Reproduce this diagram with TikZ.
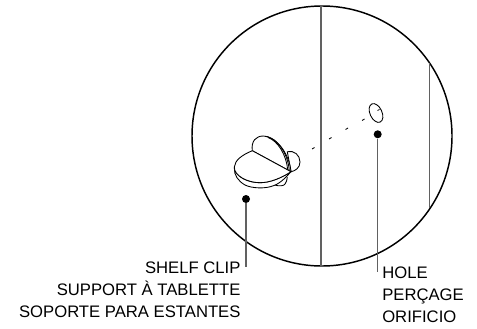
\documentclass[tikz,border=0pt]{standalone}
\usepackage{fontspec}
\setmainfont{Liberation Sans}
\tikzset{
 px/.style={x=0.75pt,y=-0.75pt},
 wall/.style={draw=black!62,line width=0.85pt},
 ink/.style={draw=black,line width=0.65pt,line join=round},
 lbl/.style={font=\fontsize{12.5pt}{16.4pt}\selectfont,inner sep=0pt},
 dotm/.style={circle,fill=black,inner sep=0pt,minimum size=6pt},
}
\begin{document}
\begin{tikzpicture}[px]
\useasboundingbox (0,0) rectangle (477,328);
\node[circle,draw=black,line width=1.1pt,minimum size=195pt,inner sep=0pt] (lens) at (322,136) {};
\coordinate (w1t) at (321,6); \coordinate (w1b) at (321,266);
\coordinate (w2t) at (429.5,63); \coordinate (w2b) at (429.5,208);
\draw[wall] (w1t)--(w1b);
\draw[wall] (w2t)--(w2b);
% hole
\draw[ink] (376,113) ellipse[x radius=6,y radius=10,rotate=25];
\draw[ink] (377.5,110.5)--(379.5,109.5);
% dashes
\foreach \a/\b/\c/\d in {312/149/314.5/147.5, 329/139/331.5/137.5, 345.5/129.5/348/128, 362/120.5/364.5/119}
  \draw[ink] (\a,\b)--(\c,\d);
% stud
\draw[ink,fill=white] (287.3,151.7) .. controls (294,150) and (300,155) .. (300,162) .. controls (300,168) and (295,171) .. (291,171.7) -- cycle;
% half disc
\draw[ink,fill=white] (252.3,150.7) .. controls (251,141) and (256,136) .. (263.3,136) .. controls (275,136) and (289,152) .. (291,171.7) -- cycle;
\draw[ink] (265.5,136.3) .. controls (277,138) and (288,153) .. (289.3,171);
\draw[ink] (268,137.5) .. controls (278,141) and (286.5,155) .. (287.8,170.5);
% foot
\draw[ink,fill=white] (275,185) .. controls (279,186.5) and (284,186) .. (285,184) .. controls (286.5,182) and (287,180) .. (287.3,177);
% disc
\draw[ink,fill=white] (234.3,168) .. controls (234,175) and (238,181) .. (245,185) .. controls (252,188.5) and (266,189) .. (274,185.5) .. controls (281,183) and (287,176) .. (291,171.7) .. controls (281,178) and (270,182.7) .. (260,182.7) .. controls (248,182.7) and (236,177) .. (234.3,168) -- cycle;
\draw[ink,fill=white] (252.3,150.7) .. controls (242,155) and (235,160) .. (234.3,167) .. controls (234,176) and (248,182.7) .. (260,182.7) .. controls (271,182.7) and (283,177) .. (291,171.7) -- cycle;
% leaders
\node[dotm] (d1) at (246,199) {};
\node[dotm] (d2) at (377.7,134.3) {};
\coordinate (e1) at (246,267);
\coordinate (e2) at (377.7,272);
\draw[wall] (d1)--(e1);
\draw[wall] (d2)--(e2);
% labels
\node[lbl,align=right,anchor=north east] (t1) at (240.7,262) {SHELF CLIP\\SUPPORT À TABLETTE\\SOPORTE PARA ESTANTES};
\node[lbl,align=left,anchor=north west] (t2) at (382,267) {HOLE\\PERÇAGE\\ORIFICIO};
\end{tikzpicture}
\end{document}
